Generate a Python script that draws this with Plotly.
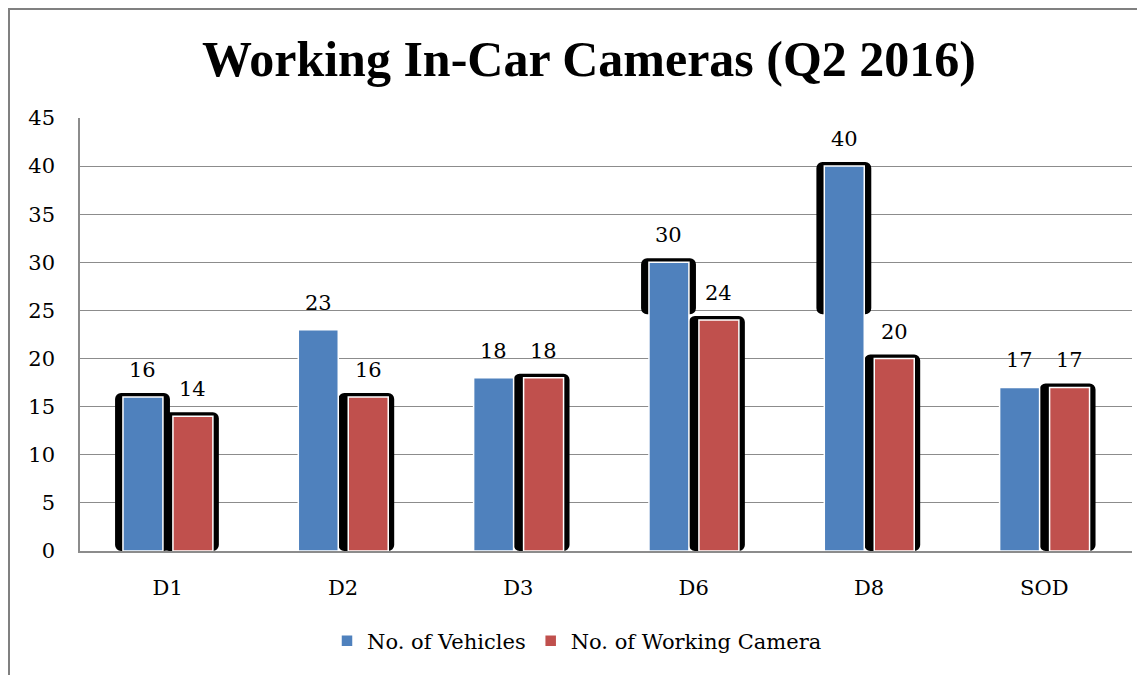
import plotly.graph_objects as go

categories = ["D1", "D2", "D3", "D6", "D8", "SOD"]
vehicles = [16, 23, 18, 30, 40, 17]
cameras = [14, 16, 18, 24, 20, 17]
# rendering artifact (black shadow) in the reference: bottom of shadow, None = no shadow
vehicle_shadow_from = [0, None, None, 24.6, 24.6, None]
camera_shadow_from = [0, 0, 0, 0, 0, 0]

BLUE = "#4f81bd"
RED = "#c0504d"
GRID = "#8c8c8c"
FONT = "DejaVu Serif"

# page has an 8px body margin, so the figure is shifted; compensate
OFF = 8
W, H = 1145 - OFF, 675 - OFF
L, R, T, B = 80 - OFF, 13, 118 - OFF, 124

blue_off, blue_w = -0.255, 0.228
red_off, red_w = 0.03, 0.228

fig = go.Figure()


def shadow(values, bases, off, w, left, right):
    xs, ys, bs = [], [], []
    for c, v, b in zip(categories, values, bases):
        if b is None:
            continue
        xs.append(c)
        ys.append(v + 0.42 - b)
        bs.append(b)
    fig.add_trace(go.Bar(
        x=xs, y=ys, base=bs, offset=off - left, width=w + left + right,
        marker=dict(color="black", line=dict(width=0), cornerradius=6),
        showlegend=False, hoverinfo="skip",
    ))


shadow(vehicles, vehicle_shadow_from, blue_off, blue_w, 0.045, 0.04)
shadow(cameras, camera_shadow_from, red_off, red_w, 0.057, 0.034)

fig.add_trace(go.Bar(
    x=categories, y=vehicles, name="No. of Vehicles", offset=blue_off, width=blue_w,
    marker=dict(color=BLUE, line=dict(color="white", width=1.5)),
))
fig.add_trace(go.Bar(
    x=categories, y=cameras, name="No. of Working Camera", offset=red_off, width=red_w,
    marker=dict(color=RED, line=dict(color="white", width=1.5)),
))

annotations = []
for i, (v, c) in enumerate(zip(vehicles, cameras)):
    annotations.append(dict(x=i + blue_off + blue_w / 2, y=v, xref="x", yref="y",
                            text=str(v), showarrow=False, yanchor="middle", yshift=27,
                            font=dict(family=FONT, size=21, color="black")))
    annotations.append(dict(x=i + red_off + red_w / 2, y=c, xref="x", yref="y",
                            text=str(c), showarrow=False, yanchor="middle", yshift=27,
                            font=dict(family=FONT, size=21, color="black")))

pw = W - L - R
ph = H - T - B


def px_x(p):
    return (p - OFF - L) / pw


def px_y(p):
    return (H - B - (p - OFF)) / ph


shapes = [
    dict(type="line", xref="paper", yref="paper", x0=px_x(9), x1=px_x(9), y0=px_y(8), y1=px_y(680),
         line=dict(color="#808080", width=2)),
    dict(type="line", xref="paper", yref="paper", x0=px_x(8), x1=px_x(1150), y0=px_y(9), y1=px_y(9),
         line=dict(color="#808080", width=2)),
]

fig.update_layout(
    width=W, height=H,
    margin=dict(l=L, r=R, t=T, b=B),
    paper_bgcolor="white", plot_bgcolor="white",
    barmode="overlay",
    title=dict(text="<b>Working In-Car Cameras (Q2 2016)</b>", x=0.511, xanchor="center",
               y=1 - (58 - OFF) / H, yanchor="middle", yref="container",
               font=dict(family="Liberation Serif", size=50, color="black")),
    xaxis=dict(showgrid=False, showline=True, linecolor=GRID, linewidth=1.5, ticks="",
               tickfont=dict(family=FONT, size=21, color="black"), ticklabelstandoff=17,
               range=[-0.5, 5.5], categoryorder="array", categoryarray=categories),
    yaxis=dict(range=[0, 45], dtick=5, showgrid=True, gridcolor=GRID, gridwidth=1.2,
               showline=True, linecolor=GRID, linewidth=1.5, ticks="", zeroline=False,
               tickfont=dict(family=FONT, size=21, color="black"), ticklabelstandoff=19),
    legend=dict(orientation="h", xref="container", yref="container", x=(577 - OFF) / W,
                y=1 - (641 - OFF) / H, xanchor="center", yanchor="middle",
                font=dict(family=FONT, size=21, color="black"), itemwidth=30),
    annotations=annotations,
    shapes=shapes,
    showlegend=True,
)

fig.write_html("out.html")
